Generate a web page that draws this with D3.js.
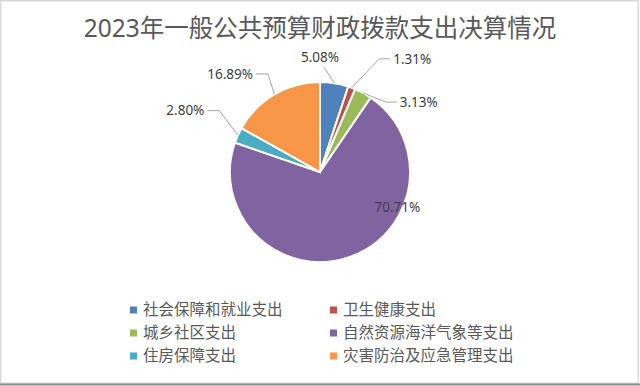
<!DOCTYPE html>
<html>
<head>
<meta charset="utf-8">
<script src="https://cdn.jsdelivr.net/npm/d3@7"></script>
<style>
  html, body { margin: 0; padding: 0; background: #fff; }
  svg { display: block; }
  text { font-family: "Noto Sans", "Noto Sans CJK SC", sans-serif; }
</style>
</head>
<body>
<svg id="chart" width="640" height="386"></svg>
<script>
'use strict';

var title = '2023年一般公共预算财政拨款支出决算情况'
var categories = ['社会保障和就业支出', '卫生健康支出', '城乡社区支出',
    '自然资源海洋气象等支出', '住房保障支出', '灾害防治及应急管理支出']
var shares = [5.08, 1.31, 3.13, 70.71, 2.80, 16.89]
var colors = ['#4f81bd', '#c0504d', '#9bbb59', '#8064a2', '#4bacc6', '#f79646']

// label placement (angle in degrees clockwise from 12 o'clock, distance from centre)
var labelLayout = [
    { angle: 0, dist: 115, side: 'bottom' },
    { angle: 39.2, dist: 146, side: 'left' },
    { angle: 54.7, dist: 121, side: 'left' },
    { angle: 114.4, dist: 85, side: 'none' },
    { angle: 294.5, dist: 148, side: 'right' },
    { angle: 317.5, dist: 133, side: 'right' }
]

var width = 640
var height = 386
var cx = 320
var cy = 172
var radius = 90

var svg = d3.select('#chart')

// frame
svg.append('rect')
    .attr('x', 0.75).attr('y', 0.75)
    .attr('width', width - 2.5).attr('height', height - 3.5)
    .attr('fill', '#fff')
    .attr('stroke', '#d9d9d9')
    .attr('stroke-width', 1.5)
svg.append('line')
    .attr('x1', 0).attr('x2', width)
    .attr('y1', 384.5).attr('y2', 384.5)
    .attr('stroke', '#8c8c8c')
    .attr('stroke-width', 2)

svg.append('text')
    .attr('x', width / 2)
    .attr('y', 37)
    .attr('text-anchor', 'middle')
    .attr('fill', '#595959')
    .style('font-size', '24.5px')
    .text(title)

var pieData = d3.pie().sort(null).value(function(d) { return d; })(shares)
var arc = d3.arc().innerRadius(0).outerRadius(radius)

var g = svg.append('g').attr('transform', 'translate(' + cx + ',' + cy + ')')

g.selectAll('path.slice')
    .data(pieData)
    .enter().append('path')
    .attr('class', 'slice')
    .attr('d', arc)
    .attr('fill', function(d, i) { return colors[i]; })
    .attr('stroke', '#fff')
    .attr('stroke-width', 2)

function polar(angleDeg, r) {
    var a = angleDeg * Math.PI / 180
    return [r * Math.sin(a), -r * Math.cos(a)]
}

var labels = g.selectAll('text.pct')
    .data(pieData)
    .enter().append('text')
    .attr('class', 'pct')
    .attr('text-anchor', 'middle')
    .attr('dy', '0.35em')
    .attr('fill', '#404040')
    .style('font-size', '13.5px')
    .attr('x', function(d, i) { return polar(labelLayout[i].angle, labelLayout[i].dist)[0]; })
    .attr('y', function(d, i) { return polar(labelLayout[i].angle, labelLayout[i].dist)[1]; })
    .text(function(d) { return d.data.toFixed(2) + '%'; })

// leader lines
labels.each(function(d, i) {
    var lay = labelLayout[i]
    if (lay.side === 'none') return
    var pos = polar(lay.angle, lay.dist)
    var half = this.getComputedTextLength() / 2
    var mid = (d.startAngle + d.endAngle) / 2 * 180 / Math.PI
    var start = polar(mid, radius)
    var pts
    if (lay.side === 'bottom') {
        pts = [start, [pos[0] + 4, pos[1] + 10]]
    } else if (lay.side === 'left') {
        var end = [pos[0] - half - 3, pos[1]]
        pts = [start, [end[0] - 11, end[1]], end]
    } else {
        var endR = [pos[0] + half + 3, pos[1]]
        pts = [start, [endR[0] + 12, endR[1]], endR]
    }
    g.insert('path', 'text.pct')
        .attr('d', d3.line()(pts))
        .attr('fill', 'none')
        .attr('stroke', '#a6a6a6')
        .attr('stroke-width', 1)
})

// legend
var legend = svg.append('g')
    .selectAll('g')
    .data(categories)
    .enter().append('g')
    .attr('transform', function(d, i) {
        return 'translate(' + (i % 2 === 0 ? 130 : 330) + ',' + (310 + Math.floor(i / 2) * 23) + ')'
    })

legend.append('rect')
    .attr('x', 0).attr('y', -3.5)
    .attr('width', 7).attr('height', 7)
    .attr('fill', function(d, i) { return colors[i]; })

legend.append('text')
    .attr('x', 13)
    .attr('dy', '0.35em')
    .attr('fill', '#595959')
    .style('font-size', '15.5px')
    .text(function(d) { return d; })
</script>
</body>
</html>
